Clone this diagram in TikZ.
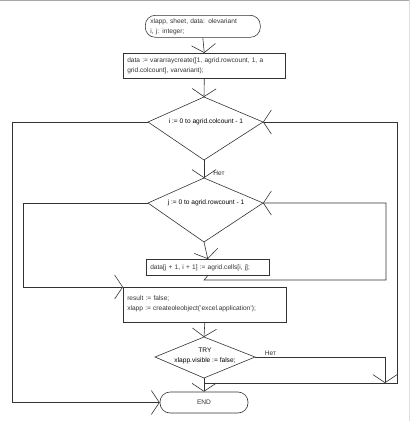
\documentclass[tikz,border=0pt]{standalone}
\usepackage{fontspec}
\setmainfont{Liberation Sans}
\usetikzlibrary{arrows.meta}
\tikzset{flow line/.style={line width=0.6pt, color=black!80}}
\tikzset{flow arrow/.style={flow line, -{Straight Barb[length=8pt, width=24pt, line width=0.6pt]}}}
\tikzset{block text/.style={font=\fontsize{6.6}{10}\selectfont, align=left, inner sep=0pt}}

\begin{document}
\begin{tikzpicture}[
		x=1pt, y=-1pt,
		process/.style={draw, flow line, rectangle, block text, anchor=north west,
			inner xsep=4pt, text width=#1},
		terminal/.style={draw, flow line, rounded corners=10pt, block text, anchor=north west,
			inner xsep=5pt, text width=#1},
		process/.default=154pt
		]    % pixel coordinates, y downwards
		\useasboundingbox (0,0) rectangle (410,421);
		\draw[gray!70, line width=1pt] (0,0.5) -- (410,0.5);
		\draw[gray!25] (409,0) -- (409,421);

		% blocks
		\node[terminal=105pt, minimum height=22pt] (start) at (145,15)
			{xlapp, sheet, data: olevariant\\i, j: integer;};
		\node[process, minimum height=25pt] (init) at (123,53)
			{data := vararraycreate([1, agrid.rowcount, 1, a\\grid.colcount], varvariant);};
		\node[process=115pt, minimum height=16pt] (cell) at (146,259)
			{data[j + 1, i + 1] := agrid.cells[i, j];};
		\node[process=155pt, minimum height=35pt, text depth=14pt] (excel) at (123,287)
			{result := false;\\xlapp := createoleobject('excel.application');};
		\node[draw, flow line, rounded corners=10pt, block text, minimum width=88pt,
			minimum height=21pt] (finish) at (204,402.5) {END};

		% loop i
		\coordinate (it) at (204,97);
		\coordinate (il) at (148,122);
		\coordinate (ir) at (263,122);
		\coordinate (ib) at (204,160);
		\draw[flow line] (it) -- (ir) -- (ib) -- (il) -- cycle;
		\node[block text] (loopi) at (206,122) {i := 0 to agrid.colcount - 1};

		% loop j
		\coordinate (jt) at (204,178);
		\coordinate (jl) at (148,203);
		\coordinate (jr) at (263,203);
		\coordinate (jb) at (204,242);
		\draw[flow line] (jt) -- (jr) -- (jb) -- (jl) -- cycle;
		\node[block text] (loopj) at (206,203) {j := 0 to agrid.rowcount - 1};

		% try
		\coordinate (tt) at (204,337);
		\coordinate (tl) at (155,357);
		\coordinate (tr) at (255,357);
		\coordinate (tb) at (204,378);
		\draw[flow line] (tt) -- (tr) -- (tb) -- (tl) -- cycle;
		\node[block text, align=center] (try) at (205,356) {TRY\\xlapp.visible := false;};

		% connectors
		\draw[flow arrow] (start.south) -- (init.north);
		\draw[flow arrow] (init.south) -- (it);
		\draw[flow arrow] (ib) -- (jt) node[block text, pos=0.75, anchor=west, xshift=9pt] (noi) {Нет};
		\draw[flow arrow] (jb) -- (cell.north);
		\draw[flow arrow] (cell.south) -- (204,280) -- (386,280) |- (jr);
		\draw[flow arrow] (jl) -- (23,203) |- (excel.north west);
		\draw[flow arrow] (il) -- (12,122) |- (finish.west);
		\draw[flow arrow] (excel.south) -- (tt);
		\draw[flow arrow] (tb) -- (finish.north);
		\draw[flow arrow] (tr) -- (385,357) node[block text, pos=0.12, anchor=south, yshift=1pt] (notry) {Нет} -- (385,383);
		\coordinate (merge) at (204,383);
		\draw[flow arrow] (merge) -- (397,383) |- (ir);
	\end{tikzpicture}
\end{document}
